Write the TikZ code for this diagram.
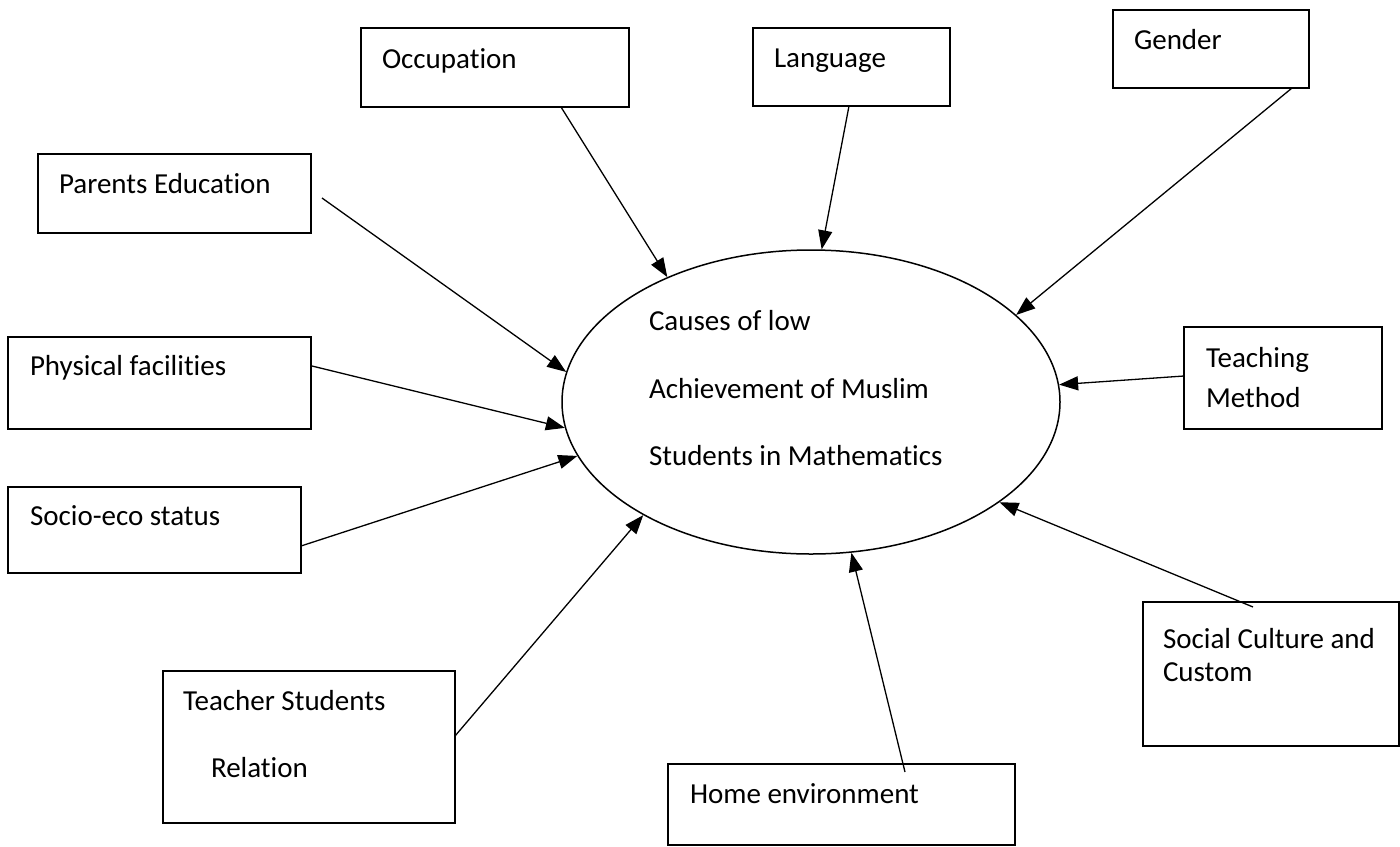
\documentclass[tikz,border=0pt]{standalone}
\usepackage{fontspec}
\setmainfont{Carlito}[Ligatures=NoCommon]
\usetikzlibrary{arrows.meta,shapes.geometric,fit}
\begin{document}
\begin{tikzpicture}[x=1pt,y=-1pt,
  box/.style={draw, line width=1.6pt, inner sep=0pt, rectangle},
  lbl/.style={anchor=base west, inner sep=0pt, outer sep=0pt, font=\fontsize{29}{35}\selectfont},
  arr/.style={-{Triangle[length=19pt,width=14pt]}, line width=1.3pt}]
\useasboundingbox (0,0) rectangle (1400,846);
\fill[white] (0,0) rectangle (1400,846);

% boxes
\node[box, fit={(361,28) (629,107)}] (occ) {};
\node[box, fit={(753,28) (950,106)}] (lang) {};
\node[box, fit={(1113,10) (1309,88)}] (gen) {};
\node[box, fit={(38,154) (311,233)}] (par) {};
\node[box, fit={(8,337) (311,429)}] (phy) {};
\node[box, fit={(8,487) (301,573)}] (soc) {};
\node[box, fit={(163,671) (455,823)}] (tsr) {};
\node[box, fit={(668,764) (1015,845)}] (home) {};
\node[box, fit={(1143,602) (1399,746)}] (scc) {};
\node[box, fit={(1184,327) (1382,429)}] (tm) {};

% central ellipse
\node[draw, ellipse, line width=1.5pt, minimum width=498pt, minimum height=304pt, inner sep=0pt] (ell) at (811,402) {};

% texts
\node[lbl] (occT) at (382,68) {Occupation};
\node[lbl] (langT) at (774,67) {Language};
\node[lbl] (genT) at (1134,49) {Gender};
\node[lbl] (parT) at (59,193) {Parents Education};
\node[lbl] (phyT) at (30,375) {Physical facilities};
\node[lbl] (socT) at (30,525) {Socio-eco status};
\node[lbl] (tsrT1) at (183,710) {Teacher Students};
\node[lbl] (tsrT2) at (211,777) {Relation};
\node[lbl] (homeT) at (690,803) {Home environment};
\node[lbl] (sccT1) at (1163,648) {Social Culture and};
\node[lbl] (sccT2) at (1163,681) {Custom};
\node[lbl] (tmT1) at (1206,367) {Teaching};
\node[lbl] (tmT2) at (1206,407) {Method};
\node[lbl] (ellT1) at (649,330) {Causes of low};
\node[lbl] (ellT2) at (649,398) {Achievement of Muslim};
\node[lbl] (ellT3) at (649,465) {Students in Mathematics};

% connector start points
\coordinate (occS) at (561,107);
\coordinate (langS) at (849,106);
\coordinate (genS) at (1292,88);
\coordinate (parS) at (322,198);
\coordinate (phyS) at (312,366);
\coordinate (socS) at (301,546);
\coordinate (tsrS) at (455,736);
\coordinate (homeS) at (905,772);
\coordinate (sccS) at (1253,607);
\coordinate (tmS) at (1184,376);

% connectors
\draw[arr] (occS) -- (ell.139.6);
\draw[arr] (langS) -- (ell.86.2);
\draw[arr] (genS) -- (ell.23.8);
\draw[arr] (parS) -- (ell.173.2);
\draw[arr] (phyS) -- (ell.186.0);
\draw[arr] (socS) -- (ell.193.4);
\draw[arr] (tsrS) -- (ell.214.0);
\draw[arr] (homeS) -- (ell.285.0);
\draw[arr] (sccS) -- (ell.332.7);
\draw[arr] (tmS) -- (ell.4.7);
\end{tikzpicture}
\end{document}
